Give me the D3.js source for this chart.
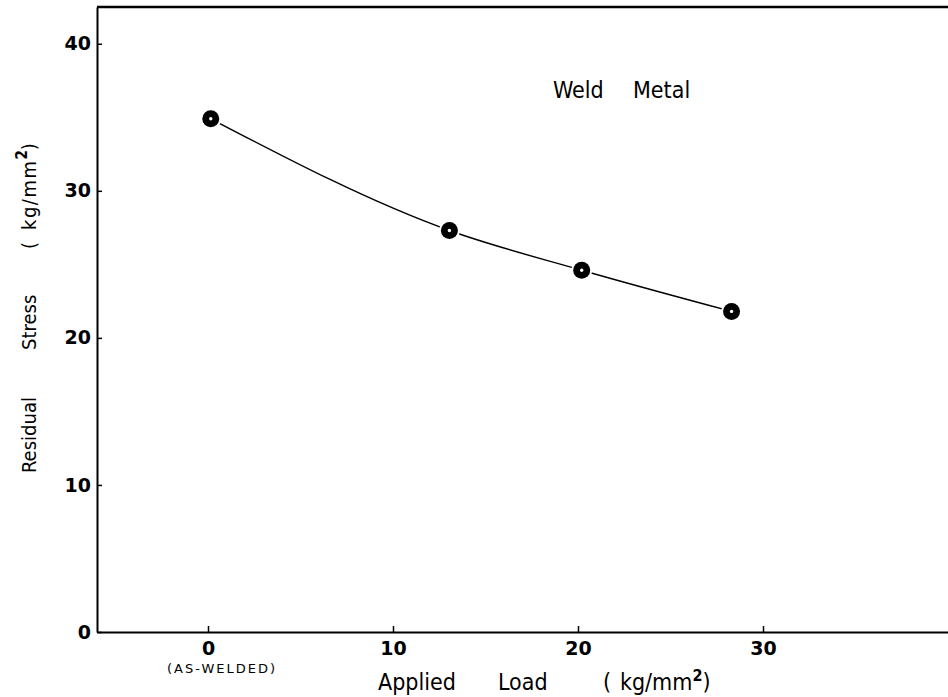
<!DOCTYPE html>
<html>
<head>
<meta charset="utf-8">
<script src="https://cdn.jsdelivr.net/npm/d3@7"></script>
<style>
  body { margin: 0; background: #fff; }
  svg text { fill: #000; }
  .axis path, .axis line { stroke: #000; }
  .axis text { font-family: "DejaVu Sans", sans-serif; font-weight: bold; font-size: 19px; }
  .title { font-family: "DejaVu Sans Condensed", "DejaVu Sans", sans-serif; }
</style>
</head>
<body>
<svg id="chart"></svg>
<script>
// applied load vs residual stress, weld metal
var loads = [0.15, 13.05, 20.2, 28.3];
var stress = [34.9, 27.3, 24.6, 21.8];
var xTicks = [0, 10, 20, 30];
var yTicks = [0, 10, 20, 30, 40];

var width = 948, height = 697;
var margin = {top: 7, right: 0, bottom: 65, left: 97};

var svg = d3.select("#chart").attr("width", width).attr("height", height);

var x = d3.scaleLinear().domain([-6, 40]).range([margin.left, width - margin.right]);
var y = d3.scaleLinear().domain([0, 42.5]).range([height - margin.bottom, margin.top]);

// top frame line
svg.append("line")
  .attr("x1", margin.left).attr("x2", width)
  .attr("y1", margin.top).attr("y2", margin.top)
  .attr("stroke", "#000").attr("stroke-width", 2.5);

var xAxis = svg.append("g")
  .attr("class", "axis")
  .attr("transform", "translate(0," + y(0) + ")")
  .call(d3.axisBottom(x).tickValues(xTicks).tickSizeInner(-6).tickSizeOuter(0).tickPadding(10).tickFormat(d3.format("d")));
xAxis.select(".domain").attr("stroke-width", 2);
xAxis.selectAll(".tick line").attr("stroke-width", 1.5);

var yAxis = svg.append("g")
  .attr("class", "axis")
  .attr("transform", "translate(" + margin.left + ",0)")
  .call(d3.axisLeft(y).tickValues(yTicks).tickSizeInner(-5).tickSizeOuter(0).tickPadding(6).tickFormat(d3.format("d")));
yAxis.select(".domain").attr("stroke-width", 2);
yAxis.selectAll(".tick line").attr("stroke-width", 1.5);

// (AS-WELDED) under the zero tick
svg.append("text")
  .attr("x", 222).attr("y", 673)
  .attr("text-anchor", "middle")
  .style("font-family", "DejaVu Sans, sans-serif")
  .style("font-size", "13px")
  .style("letter-spacing", "2px")
  .text("(AS-WELDED)");

// x title
var xt = svg.append("text").attr("class", "title").attr("y", 690).style("font-size", "23px");
xt.append("tspan").attr("x", 378).text("Applied");
xt.append("tspan").attr("x", 498).text("Load");
xt.append("tspan").attr("x", 603).text("(");
xt.append("tspan").attr("x", 620).text("kg/mm");
xt.append("tspan").attr("dy", -9).style("font-size", "16px").style("font-weight", "bold").text("2");
xt.append("tspan").attr("dy", 9).text(")");

// y title
var yt = svg.append("text").attr("class", "title").style("font-size", "20px")
  .attr("transform", "translate(36,473) rotate(-90)");
yt.append("tspan").attr("x", 0).text("Residual");
yt.append("tspan").attr("x", 123).text("Stress");
yt.append("tspan").attr("x", 224).text("(");
yt.append("tspan").attr("x", 243).style("letter-spacing", "1.5px").text("kg/mm");
yt.append("tspan").attr("dy", -9).style("font-size", "15px").style("font-weight", "bold").text("2");
yt.append("tspan").attr("dy", 9).text(")");

// label
var wm = svg.append("text").attr("class", "title").attr("y", 98).style("font-size", "23px");
wm.append("tspan").attr("x", 553).text("Weld");
wm.append("tspan").attr("x", 633).text("Metal");

// curve
var pts = loads.map(function(d, i) { return [d, stress[i]]; });
var line = d3.line()
  .x(function(d) { return x(d[0]); })
  .y(function(d) { return y(d[1]); })
  .curve(d3.curveMonotoneX);

svg.append("path")
  .datum(pts)
  .attr("d", line)
  .attr("fill", "none")
  .attr("stroke", "#000")
  .attr("stroke-width", 1.4);

var mk = svg.append("g").selectAll("g")
  .data(pts)
  .enter().append("g")
  .attr("transform", function(d) { return "translate(" + x(d[0]) + "," + y(d[1]) + ")"; });
mk.append("circle").attr("r", 10.5).attr("fill", "#fff");
mk.append("circle").attr("r", 8.5).attr("fill", "#000");
mk.append("circle").attr("r", 1.7).attr("fill", "#fff");
</script>
</body>
</html>
